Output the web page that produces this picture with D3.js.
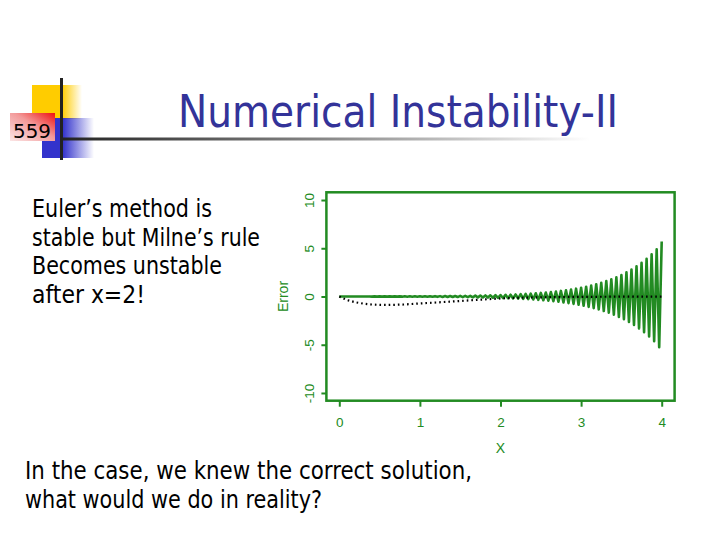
<!DOCTYPE html>
<html>
<head>
<meta charset="utf-8">
<script src="https://cdn.jsdelivr.net/npm/d3@7"></script>
<style>
body { margin: 0; background: #fff; }
</style>
</head>
<body>
<script>
// error of Milne's rule, one value per step of h = 1/32 from x = 0 to x = 4
var milneStep = 0.03125;
var milneError = [
  0, -0.004, 0.005, -0.005, 0.005, -0.005, 0.006, -0.006, 0.006, -0.007,
  0.007, -0.008, 0.008, -0.009, 0.009, -0.010, 0.010, -0.011, 0.011, -0.012,
  0.013, -0.013, 0.014, -0.015, 0.016, -0.017, 0.018, -0.019, 0.020, -0.021,
  0.022, -0.023, 0.025, -0.026, 0.028, -0.029, 0.031, -0.033, 0.035, -0.037,
  0.039, -0.041, 0.044, -0.046, 0.049, -0.052, 0.055, -0.058, 0.061, -0.065,
  0.068, -0.072, 0.076, -0.081, 0.086, -0.090, 0.096, -0.101, 0.107, -0.113,
  0.120, -0.127, 0.134, -0.142, 0.150, -0.159, 0.168, -0.178, 0.188, -0.199,
  0.210, -0.222, 0.235, -0.249, 0.263, -0.278, 0.295, -0.312, 0.330, -0.349,
  0.369, -0.390, 0.413, -0.437, 0.462, -0.489, 0.517, -0.547, 0.579, -0.612,
  0.647, -0.685, 0.725, -0.766, 0.811, -0.858, 0.907, -0.960, 1.015, -1.074,
  1.136, -1.202, 1.272, -1.345, 1.423, -1.505, 1.592, -1.685, 1.782, -1.885,
  1.994, -2.110, 2.232, -2.361, 2.497, -2.642, 2.795, -2.957, 3.128, -3.309,
  3.500, -3.703, 3.917, -4.143, 4.383, -4.637, 4.905, -5.25, 5.70
];

// error of Euler's method (dotted black line)
var eulerX = [0, 0.1, 0.2, 0.3, 0.4, 0.5, 0.6, 0.7, 0.8, 0.9, 1.0, 1.2, 1.4, 1.6, 1.8,
  2.0, 2.2, 2.4, 2.6, 2.8, 3.0, 3.2, 3.4, 3.6, 3.8, 4.0];
var eulerY = [0, -0.38, -0.6, -0.74, -0.83, -0.87, -0.88, -0.86, -0.83, -0.78, -0.72,
  -0.62, -0.52, -0.41, -0.3, -0.2, -0.14, -0.1, -0.07, -0.05, -0.04, -0.03, -0.02,
  -0.02, -0.01, -0.01];

var xTicks = [0, 1, 2, 3, 4];
var yTicks = [-10, -5, 0, 5, 10];

var bodyLines = ["Euler\u2019s method is", "stable but Milne\u2019s rule", "Becomes unstable", "after x=2!"];
var bodyWidths = [180, 228, 190, 113];
var footLines = ["In the case, we knew the correct solution,", "what would we do in reality?"];
var footWidths = [447, 297];

var width = 720;
var height = 540;
var green = "#228b22";

var svg = d3.select("body").append("svg")
    .attr("width", width)
    .attr("height", height);

svg.append("rect")
	.attr("width", width)
	.attr("height", height)
	.attr("fill", "#fff");

// gradients for the slide logo and rule
var defs = svg.append("defs");

function hGrad(id, stops, x1, x2) {
	var g = defs.append("linearGradient").attr("id", id);
	if (x1 != null) {
		g.attr("gradientUnits", "userSpaceOnUse").attr("x1", x1).attr("x2", x2).attr("y1", 0).attr("y2", 0);
	}
	stops.forEach(function(s) {
		g.append("stop").attr("offset", s[0]).attr("stop-color", s[1]).attr("stop-opacity", s[2]);
	});
}
hGrad("yellowFade", [[0, "#ffcc00", 1], [0.6, "#ffcc00", 1], [1, "#ffcc00", 0]]);
hGrad("blueFade", [[0, "#3333cc", 1], [0.4, "#3333cc", 1], [1, "#3333cc", 0]]);
hGrad("ruleFade", [[0, "#222", 1], [0.5, "#888", 1], [1, "#fff", 1]], 62, 590);

var red = defs.append("linearGradient").attr("id", "redBox")
	.attr("x1", 0).attr("y1", 1).attr("x2", 1).attr("y2", 0);
red.append("stop").attr("offset", 0).attr("stop-color", "#fbe6e6");
red.append("stop").attr("offset", 0.55).attr("stop-color", "#f39a9a");
red.append("stop").attr("offset", 1).attr("stop-color", "#ee1010");

// logo
svg.append("rect").attr("x", 32).attr("y", 85).attr("width", 50).attr("height", 34).attr("fill", "url(#yellowFade)");
svg.append("rect").attr("x", 42).attr("y", 118).attr("width", 52).attr("height", 40).attr("fill", "url(#blueFade)");
svg.append("rect").attr("x", 10).attr("y", 113).attr("width", 45).attr("height", 28).attr("fill", "url(#redBox)");
svg.append("line").attr("x1", 61.5).attr("x2", 61.5).attr("y1", 78).attr("y2", 160)
	.attr("stroke", "#222").attr("stroke-width", 3);
svg.append("rect").attr("x", 62).attr("y", 137.5).attr("width", 528).attr("height", 3).attr("fill", "url(#ruleFade)");

svg.append("text")
	.attr("x", 13).attr("y", 138)
	.attr("font-family", "DejaVu Sans, sans-serif")
	.attr("font-size", 20)
	.attr("textLength", 38).attr("lengthAdjust", "spacingAndGlyphs")
	.attr("fill", "#000")
	.text("559");

svg.append("text")
	.attr("x", 178).attr("y", 127)
	.attr("font-family", "DejaVu Sans, sans-serif")
	.attr("font-size", 44)
	.attr("textLength", 440).attr("lengthAdjust", "spacingAndGlyphs")
	.attr("fill", "#333399")
	.text("Numerical Instability-II");

// left text block
bodyLines.forEach(function(t, i) {
	svg.append("text")
		.attr("x", 32).attr("y", 217 + i * 28.5)
		.attr("font-family", "DejaVu Sans, sans-serif")
		.attr("font-size", 24)
		.attr("textLength", bodyWidths[i]).attr("lengthAdjust", "spacingAndGlyphs")
		.text(t);
});

footLines.forEach(function(t, i) {
	svg.append("text")
		.attr("x", 25).attr("y", 479 + i * 29)
		.attr("font-family", "DejaVu Sans, sans-serif")
		.attr("font-size", 24)
		.attr("textLength", footWidths[i]).attr("lengthAdjust", "spacingAndGlyphs")
		.text(t);
});

// the chart
var x = d3.scaleLinear().domain([-0.16, 4.16]).range([326.4, 674.6]);
var y = d3.scaleLinear().domain([-10.8, 10.8]).range([400.7, 192.3]);

var milneLine = d3.line()
	.x(function(d, i) { return x(i * milneStep); })
	.y(function(d) { return y(d); });

svg.append("path")
	.datum(milneError)
	.attr("d", milneLine)
	.attr("fill", "none")
	.attr("stroke", green)
	.attr("stroke-width", 2.6)
	.attr("stroke-linejoin", "round");

var eulerLine = d3.line()
	.x(function(d, i) { return x(eulerX[i]); })
	.y(function(d) { return y(d); });

svg.append("path")
	.datum(eulerY)
	.attr("d", eulerLine)
	.attr("fill", "none")
	.attr("stroke", "#000")
	.attr("stroke-width", 2.2)
	.attr("stroke-dasharray", "1.6,3");

svg.append("rect")
	.attr("x", x(-0.16)).attr("y", y(10.8))
	.attr("width", x(4.16) - x(-0.16)).attr("height", y(-10.8) - y(10.8))
	.attr("fill", "none")
	.attr("stroke", green)
	.attr("stroke-width", 2.5);

var xAxis = svg.append("g")
	.attr("transform", "translate(0," + y(-10.8) + ")")
	.call(d3.axisBottom(x).tickValues(xTicks).tickSize(6).tickPadding(11).tickFormat(d3.format("d")));

var yAxis = svg.append("g")
	.attr("transform", "translate(" + x(-0.16) + ",0)")
	.call(d3.axisLeft(y).tickValues(yTicks).tickSize(5).tickFormat(d3.format("d")));

[xAxis, yAxis].forEach(function(a) {
	a.select(".domain").remove();
	a.selectAll("line").attr("stroke", green).attr("stroke-width", 2);
	a.selectAll("text")
		.attr("fill", green)
		.attr("font-family", "Liberation Sans, Arial, sans-serif")
		.attr("font-size", 13.5);
});

yAxis.selectAll("text")
	.attr("x", null).attr("dy", null)
	.attr("text-anchor", "middle")
	.attr("dominant-baseline", "central")
	.attr("transform", "translate(-17,0) rotate(-90)")
	.text(function(d) { return d3.format("d")(d).replace("\u2212", "-"); });

svg.append("text")
	.attr("x", x(2)).attr("y", 453)
	.attr("text-anchor", "middle")
	.attr("font-family", "Liberation Sans, Arial, sans-serif")
	.attr("font-size", 14)
	.attr("fill", green)
	.text("X");

svg.append("text")
	.attr("transform", "translate(283," + y(0) + ") rotate(-90)")
	.attr("text-anchor", "middle")
	.attr("dominant-baseline", "central")
	.attr("font-family", "Liberation Sans, Arial, sans-serif")
	.attr("font-size", 14)
	.attr("fill", green)
	.text("Error");
</script>
</body>
</html>
